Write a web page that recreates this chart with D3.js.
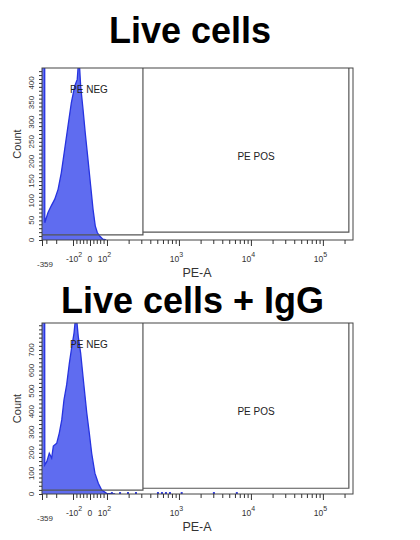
<!DOCTYPE html>
<html>
<head>
<meta charset="utf-8">
<script src="https://cdn.jsdelivr.net/npm/d3@7"></script>
<style>
  body { margin: 0; background: #fff; }
  svg { display: block; font-family: "Liberation Sans", Arial, sans-serif; }
</style>
</head>
<body>
<svg id="chart" width="420" height="540"></svg>
<script>
// histogram bins: PE-A value -> event count
// first two points are the off-scale pile at the left edge (clipped at the top)
const pe1 = [-359, -326, -320, -280, -245, -212, -185, -162, -141, -123, -107, -90, -75, -65, -55, -41, -28, -12, 4, 18, 31, 43, 57, 76, 95];
const count1 = [2000, 2000, 44, 70, 87, 104, 129, 171, 231, 290, 350, 392, 409, 470, 392, 333, 273, 206, 138, 78, 36, 19, 10, 2, 0];

const pe2 = [-359, -326, -320, -295, -266, -241, -225, -196, -176, -159, -145, -130, -116, -105, -94, -82, -69, -55, -39, -19, -4, 10, 29, 49, 69, 98, 130];
const count2 = [3000, 3000, 141, 157, 198, 175, 233, 246, 296, 360, 457, 530, 637, 716, 782, 880, 765, 685, 554, 394, 296, 198, 101, 52, 19, 3, 0];

// single events scattered along the baseline (lower plot only)
const sparsePe2 = [117, 152, 196, 253, 511, 581, 660, 750, 1092, 3060, 6370];
const sparseCount2 = [2, 2, 2, 2, 2, 2, 2, 2, 2, 2, 2];

const titles = ["Live cells", "Live cells + IgG"];
const yMaxes = [438, 831];
const yLabels1 = [0, 50, 100, 150, 200, 250, 300, 350, 400];
const yLabels2 = [0, 100, 200, 300, 400, 500, 600, 700];
const yMinorStep = [10, 20];

// interval gates
const gateNames = ["PE NEG", "PE POS"];
const gateNeg = [-359, 316];
const gatePos = [316, 229600];
const gateNegY = [13, 19];
const gatePosY = [20, 28];

// x axis (biexponential display)
const xMin = -359, xMax = 262143;
const xMajor = [-100, 0, 100, 1000, 10000, 100000];
const xMajorLabels = [["-10", "2"], ["0", ""], ["10", "2"], ["10", "3"], ["10", "4"], ["10", "5"]];
const xMinor = [-300, -200, -80, -60, -40, -20, 20, 40, 60, 80,
  200, 300, 400, 500, 600, 700, 800, 900,
  2000, 3000, 4000, 5000, 6000, 7000, 8000, 9000,
  20000, 30000, 40000, 50000, 60000, 70000, 80000, 90000, 200000];

const svg = d3.select("#chart");

// linear around zero, logarithmic beyond +-100
function tform(v) {
  if (Math.abs(v) <= 100) return 0.236 * v / 100;
  if (v > 0) return 0.236 + Math.log10(v / 100);
  return -(0.236 + 0.776 * Math.log10(-v / 100));
}

const left = 42, right = 353;
const xLin = d3.scaleLinear().domain([tform(xMin), tform(xMax)]).range([left, right]);
const x = v => xLin(tform(v));

const fill = "#5f6cf0", edge = "#2633e0", ink = "#333";

function drawPanel(i, top, h, titleX, titleY, pe, counts, yLabels, sparsePe, sparseCount) {
  const bottom = top + h;
  const y = d3.scaleLinear().domain([0, yMaxes[i]]).range([bottom, top]);
  const g = svg.append("g");

  // title
  g.append("text")
    .attr("x", titleX).attr("y", titleY)
    .attr("text-anchor", "middle")
    .attr("font-size", 36).attr("font-weight", "bold")
    .attr("fill", "#000")
    .text(titles[i]);

  svg.append("clipPath").attr("id", "clip" + i)
    .append("rect").attr("x", left).attr("y", top)
    .attr("width", right - left).attr("height", h);

  const bins = pe.map((v, k) => [v, counts[k]]);

  // histogram
  const plot = g.append("g").attr("clip-path", `url(#clip${i})`);
  plot.append("path")
    .datum(bins)
    .attr("fill", fill)
    .attr("d", d3.area().x(d => x(d[0])).y0(y(0)).y1(d => y(d[1])));
  plot.append("path")
    .datum(bins)
    .attr("fill", "none")
    .attr("stroke", edge)
    .attr("stroke-width", 1.3)
    .attr("d", d3.line().x(d => x(d[0])).y(d => y(d[1])));

  if (sparsePe) {
    plot.selectAll(".ev")
      .data(sparsePe.map((v, k) => [v, sparseCount[k]]))
      .join("rect")
      .attr("x", d => x(d[0]) - 1)
      .attr("y", d => y(d[1]) - 1.5)
      .attr("width", 2)
      .attr("height", d => y(0) - y(d[1]) + 1.5)
      .attr("fill", edge);
  }

  // gates
  const gate = g.append("g").attr("fill", "none").attr("stroke", "#555").attr("stroke-width", 1.2);
  gate.append("path").attr("d",
    `M${x(gateNeg[0])},${y(gateNegY[i])}H${x(gateNeg[1])}V${top}`);
  gate.append("path").attr("d",
    `M${x(gatePos[0])},${y(gatePosY[i])}H${x(gatePos[1])}V${top}`);

  g.append("text").attr("x", 89).attr("y", top + 25)
    .attr("text-anchor", "middle").attr("font-size", 10).attr("fill", "#222")
    .text(gateNames[0]);
  g.append("text").attr("x", 256).attr("y", top + 92)
    .attr("text-anchor", "middle").attr("font-size", 10).attr("fill", "#222")
    .text(gateNames[1]);

  // frame
  g.append("rect")
    .attr("x", left).attr("y", top)
    .attr("width", right - left).attr("height", h)
    .attr("fill", "none").attr("stroke", "#444").attr("stroke-width", 1);

  // y axis
  const ya = g.append("g").attr("transform", `translate(${left},0)`)
    .call(d3.axisLeft(y).tickValues(d3.range(0, yMaxes[i], yMinorStep[i])).tickSize(3).tickFormat(""));
  ya.select(".domain").remove();
  ya.selectAll("line").attr("stroke", ink);

  g.selectAll(".ylab")
    .data(yLabels)
    .join("text")
    .attr("transform", d => `translate(${left - 8.5},${y(d)}) rotate(-90)`)
    .attr("text-anchor", "middle")
    .attr("font-size", 8).attr("fill", ink)
    .text(d => d);

  g.append("text")
    .attr("transform", `translate(20.5,${top + h / 2 - (i === 0 ? 10 : 0)}) rotate(-90)`)
    .attr("text-anchor", "middle")
    .attr("font-size", 11).attr("fill", ink)
    .text("Count");

  // x axis
  const xa = g.append("g").attr("transform", `translate(0,${bottom})`)
    .call(d3.axisBottom(xLin).tickValues(xMinor.map(tform)).tickSize(4).tickFormat(""));
  xa.select(".domain").remove();
  const xb = g.append("g").attr("transform", `translate(0,${bottom})`)
    .call(d3.axisBottom(xLin).tickValues(xMajor.concat([xMin]).map(tform)).tickSize(6).tickFormat(""));
  xb.select(".domain").remove();
  g.selectAll(".tick line").attr("stroke", ink);

  const labs = g.selectAll(".xlab")
    .data(xMajor.map((v, k) => [v, xMajorLabels[k]]))
    .join("text")
    .attr("x", d => x(d[0]) + (d[1][1] === "" ? 0 : d[0] < 0 ? 1 : -2.5))
    .attr("y", bottom + 22)
    .attr("text-anchor", "middle")
    .attr("font-size", 8.5).attr("fill", ink);
  labs.append("tspan").text(d => d[1][0]);
  labs.append("tspan").attr("dy", -5).attr("font-size", 7).text(d => d[1][1]);

  g.append("text")
    .attr("x", x(xMin) + 3).attr("y", bottom + 27)
    .attr("text-anchor", "middle")
    .attr("font-size", 8).attr("fill", ink)
    .text(xMin);

  g.append("text")
    .attr("x", 197).attr("y", bottom + 37)
    .attr("text-anchor", "middle")
    .attr("font-size", 12.5).attr("fill", ink)
    .text("PE-A");
}

drawPanel(0, 68, 172, 190, 43, pe1, count1, yLabels1);
drawPanel(1, 323, 171, 192.5, 313, pe2, count2, yLabels2, sparsePe2, sparseCount2);
</script>
</body>
</html>
